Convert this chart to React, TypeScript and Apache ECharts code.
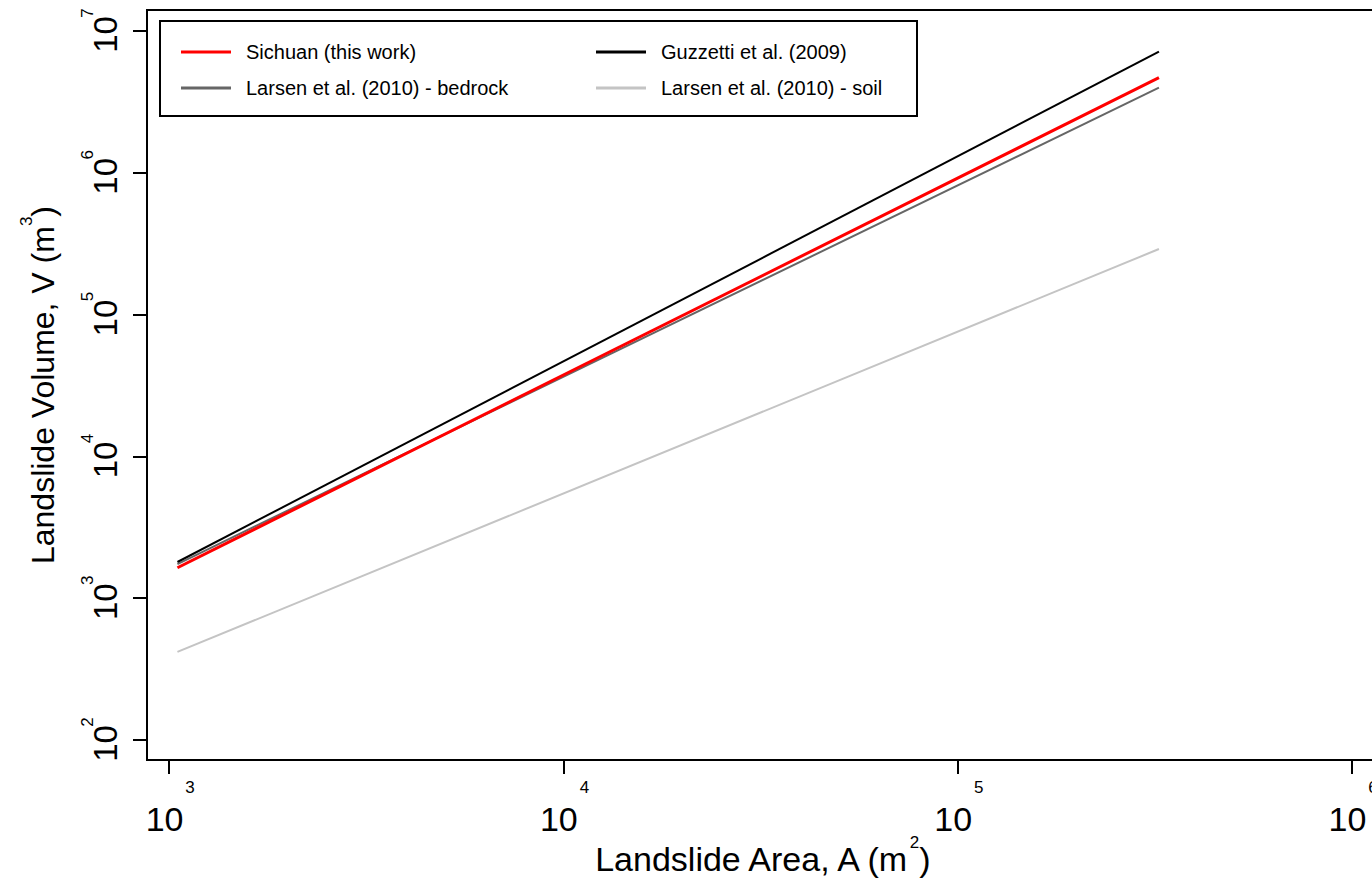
import React, { useEffect, useRef } from "react";
import * as echarts from "echarts";

// ---- data (log-log power-law fits, end points) ----
const seriesNames = [
  "Sichuan (this work)",
  "Guzzetti et al. (2009)",
  "Larsen et al. (2010) - bedrock",
  "Larsen et al. (2010) - soil",
];
const areaEnds = [1050, 324000]; // m^2
const sichuanVolume = [1640, 4690000]; // m^3
const guzzettiVolume = [1800, 7150000];
const larsenBedrockVolume = [1740, 3980000];
const larsenSoilVolume = [418, 290000];
const xTickValues = [1e3, 1e4, 1e5, 1e6];
const yTickValues = [1e2, 1e3, 1e4, 1e5, 1e6, 1e7];
const xLimitExp = [2.944, 6.061];
const yLimitExp = [1.859, 7.148];

const FONT = "'Liberation Sans', Arial, Helvetica, sans-serif";

export default function App() {
  const ref = useRef<HTMLDivElement>(null);

  useEffect(() => {
    if (!ref.current) return;
    const chart = echarts.init(ref.current, undefined, { renderer: "svg" });

    const xMin = Math.pow(10, xLimitExp[0]);
    const xMax = Math.pow(10, xLimitExp[1]);
    const yMin = Math.pow(10, yLimitExp[0]);
    const yMax = Math.pow(10, yLimitExp[1]);
    const expFmt = (v: number) => String(Math.round(Math.log10(v)));

    const mk = (name: string, vols: number[], color: string, width: number, z: number) => ({
      type: "line",
      name,
      xAxisIndex: 0,
      yAxisIndex: 0,
      data: [
        [areaEnds[0], vols[0]],
        [areaEnds[1], vols[1]],
      ],
      symbol: "none",
      showSymbol: false,
      color,
      lineStyle: { color, width },
      z,
      silent: true,
    });

    const legendCommon = {
      orient: "vertical",
      top: 37,
      itemWidth: 50,
      itemHeight: 3,
      itemGap: 16,
      icon: "rect",
      selectedMode: false,
      formatter: (name: string) => "{gap| }" + name,
      textStyle: {
        fontSize: 20,
        color: "#000",
        fontFamily: FONT,
        rich: { gap: { width: 10 } },
      },
    };

    const titleStyle = (size: number) => ({
      fontSize: size,
      color: "#000",
      fontFamily: FONT,
      rich: {
        sup: {
          fontSize: 17,
          color: "#000",
          fontFamily: FONT,
          verticalAlign: "top",
          padding: [0, 0, 32, 0],
        },
      },
    });

    chart.setOption({
      animation: false,
      backgroundColor: "#fff",
      textStyle: { fontFamily: FONT },
      grid: {
        left: 147,
        top: 10,
        width: 1229,
        height: 750,
        show: true,
        borderColor: "#000",
        borderWidth: 2,
        backgroundColor: "transparent",
        outerBoundsMode: "none",
        containLabel: false,
      },
      legend: [
        { ...legendCommon, left: 176, data: [seriesNames[0], seriesNames[2]] },
        { ...legendCommon, left: 591, data: [seriesNames[1], seriesNames[3]] },
      ],
      graphic: [
        {
          type: "rect",
          shape: { x: 160, y: 21, width: 757, height: 95 },
          style: { fill: "none", stroke: "#000", lineWidth: 2 },
          silent: true,
        },
      ],
      xAxis: [
        {
          type: "log",
          logBase: 10,
          min: xMin,
          max: xMax,
          axisLine: { show: false },
          splitLine: { show: false },
          axisTick: {
            show: true,
            customValues: xTickValues,
            length: 14,
            lineStyle: { color: "#000", width: 2 },
          },
          axisLabel: {
            customValues: xTickValues,
            formatter: () => "10",
            fontSize: 34,
            color: "#000",
            fontFamily: FONT,
            margin: 42,
            padding: [0, 9, 0, 0],
          },
          name: "Landslide Area, A (m{sup|2})",
          nameLocation: "middle",
          nameGap: 74,
          nameMoveOverlap: false,
          nameTextStyle: titleStyle(34),
        },
        {
          type: "log",
          logBase: 10,
          min: xMin,
          max: xMax,
          position: "bottom",
          axisLine: { show: false },
          splitLine: { show: false },
          axisTick: { show: false },
          axisLabel: {
            customValues: xTickValues,
            formatter: expFmt,
            fontSize: 17,
            color: "#000",
            fontFamily: FONT,
            margin: 19,
            padding: [0, 0, 0, 42],
          },
        },
      ],
      yAxis: [
        {
          type: "log",
          logBase: 10,
          min: yMin,
          max: yMax,
          axisLine: { show: false },
          splitLine: { show: false },
          axisTick: {
            show: true,
            customValues: yTickValues,
            length: 14,
            lineStyle: { color: "#000", width: 2 },
          },
          axisLabel: {
            customValues: yTickValues,
            formatter: () => "10",
            rotate: 90,
            fontSize: 33,
            color: "#000",
            fontFamily: FONT,
            margin: 25,
            padding: [0, 7, 0, 0],
          },
          name: "Landslide Volume, V (m{sup|3})",
          nameLocation: "middle",
          nameGap: 80,
          nameMoveOverlap: false,
          nameTextStyle: titleStyle(32),
        },
        {
          type: "log",
          logBase: 10,
          min: yMin,
          max: yMax,
          position: "left",
          axisLine: { show: false },
          splitLine: { show: false },
          axisTick: { show: false },
          axisLabel: {
            customValues: yTickValues,
            formatter: expFmt,
            rotate: 90,
            fontSize: 17,
            color: "#000",
            fontFamily: FONT,
            margin: 51,
            padding: [0, 0, 0, 36],
          },
        },
      ],
      series: [
        mk(seriesNames[3], larsenSoilVolume, "#c4c4c4", 2, 2),
        mk(seriesNames[2], larsenBedrockVolume, "#666666", 2, 3),
        mk(seriesNames[0], sichuanVolume, "#ff0000", 3, 4),
        mk(seriesNames[1], guzzettiVolume, "#000000", 2, 5),
      ],
    });

    return () => chart.dispose();
  }, []);

  return (
    <div
      ref={ref}
      style={{ position: "absolute", left: 0, top: 0, width: 1372, height: 878 }}
    />
  );
}
